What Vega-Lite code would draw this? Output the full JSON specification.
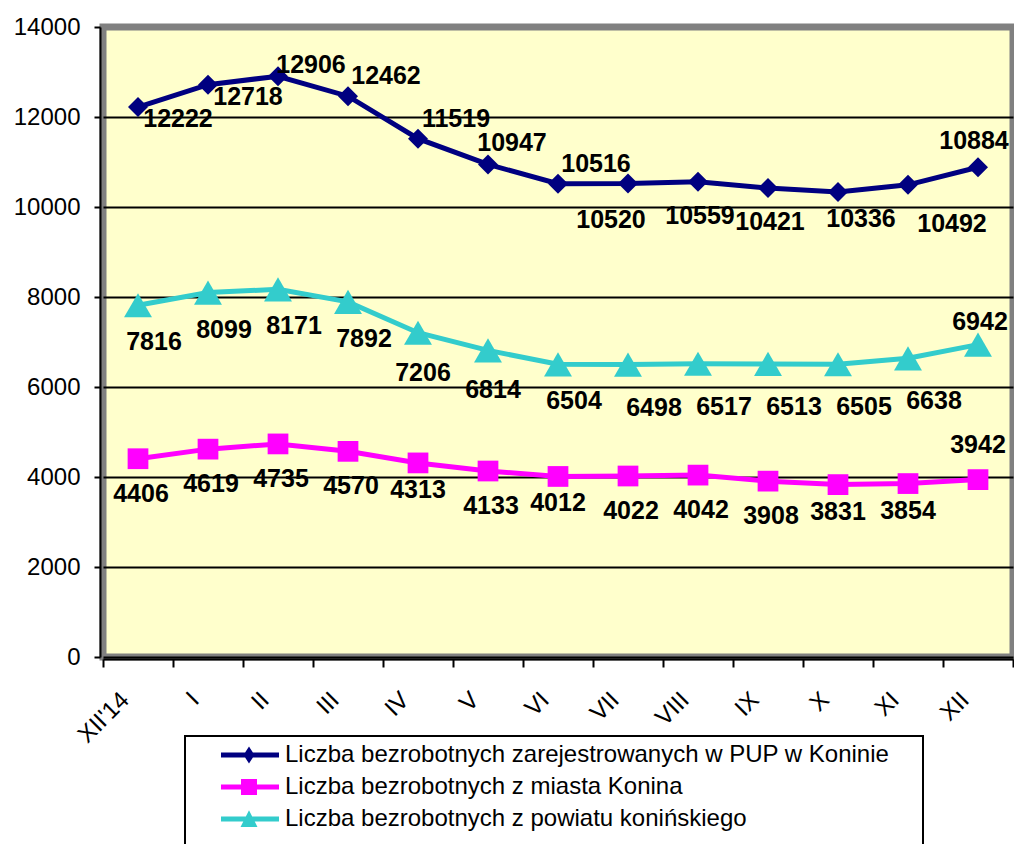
{
  "$schema": "https://vega.github.io/schema/vega-lite/v6.json",
  "width": 910,
  "height": 630,
  "autosize": {"type": "none"},
  "padding": {"left": 103, "top": 27, "right": 1, "bottom": 187},
  "background": "white",
  "view": {"fill": "#FFFFCC", "stroke": "#808080", "strokeWidth": 7},
  "config": {
    "font": "Liberation Sans",
    "view": {"fill": "#FFFFCC", "stroke": "#808080", "strokeWidth": 7}
  },
  "data": {
    "values": [
      {"m": "XII'14", "s": "Liczba bezrobotnych zarejestrowanych w PUP w Koninie", "v": 12222},
      {"m": "I", "s": "Liczba bezrobotnych zarejestrowanych w PUP w Koninie", "v": 12718},
      {"m": "II", "s": "Liczba bezrobotnych zarejestrowanych w PUP w Koninie", "v": 12906},
      {"m": "III", "s": "Liczba bezrobotnych zarejestrowanych w PUP w Koninie", "v": 12462},
      {"m": "IV", "s": "Liczba bezrobotnych zarejestrowanych w PUP w Koninie", "v": 11519},
      {"m": "V", "s": "Liczba bezrobotnych zarejestrowanych w PUP w Koninie", "v": 10947},
      {"m": "VI", "s": "Liczba bezrobotnych zarejestrowanych w PUP w Koninie", "v": 10516},
      {"m": "VII", "s": "Liczba bezrobotnych zarejestrowanych w PUP w Koninie", "v": 10520},
      {"m": "VIII", "s": "Liczba bezrobotnych zarejestrowanych w PUP w Koninie", "v": 10559},
      {"m": "IX", "s": "Liczba bezrobotnych zarejestrowanych w PUP w Koninie", "v": 10421},
      {"m": "X", "s": "Liczba bezrobotnych zarejestrowanych w PUP w Koninie", "v": 10336},
      {"m": "XI", "s": "Liczba bezrobotnych zarejestrowanych w PUP w Koninie", "v": 10492},
      {"m": "XII", "s": "Liczba bezrobotnych zarejestrowanych w PUP w Koninie", "v": 10884},
      {"m": "XII'14", "s": "Liczba bezrobotnych z miasta Konina", "v": 4406},
      {"m": "I", "s": "Liczba bezrobotnych z miasta Konina", "v": 4619},
      {"m": "II", "s": "Liczba bezrobotnych z miasta Konina", "v": 4735},
      {"m": "III", "s": "Liczba bezrobotnych z miasta Konina", "v": 4570},
      {"m": "IV", "s": "Liczba bezrobotnych z miasta Konina", "v": 4313},
      {"m": "V", "s": "Liczba bezrobotnych z miasta Konina", "v": 4133},
      {"m": "VI", "s": "Liczba bezrobotnych z miasta Konina", "v": 4012},
      {"m": "VII", "s": "Liczba bezrobotnych z miasta Konina", "v": 4022},
      {"m": "VIII", "s": "Liczba bezrobotnych z miasta Konina", "v": 4042},
      {"m": "IX", "s": "Liczba bezrobotnych z miasta Konina", "v": 3908},
      {"m": "X", "s": "Liczba bezrobotnych z miasta Konina", "v": 3831},
      {"m": "XI", "s": "Liczba bezrobotnych z miasta Konina", "v": 3854},
      {"m": "XII", "s": "Liczba bezrobotnych z miasta Konina", "v": 3942},
      {"m": "XII'14", "s": "Liczba bezrobotnych z powiatu konińskiego", "v": 7816},
      {"m": "I", "s": "Liczba bezrobotnych z powiatu konińskiego", "v": 8099},
      {"m": "II", "s": "Liczba bezrobotnych z powiatu konińskiego", "v": 8171},
      {"m": "III", "s": "Liczba bezrobotnych z powiatu konińskiego", "v": 7892},
      {"m": "IV", "s": "Liczba bezrobotnych z powiatu konińskiego", "v": 7206},
      {"m": "V", "s": "Liczba bezrobotnych z powiatu konińskiego", "v": 6814},
      {"m": "VI", "s": "Liczba bezrobotnych z powiatu konińskiego", "v": 6504},
      {"m": "VII", "s": "Liczba bezrobotnych z powiatu konińskiego", "v": 6498},
      {"m": "VIII", "s": "Liczba bezrobotnych z powiatu konińskiego", "v": 6517},
      {"m": "IX", "s": "Liczba bezrobotnych z powiatu konińskiego", "v": 6513},
      {"m": "X", "s": "Liczba bezrobotnych z powiatu konińskiego", "v": 6505},
      {"m": "XI", "s": "Liczba bezrobotnych z powiatu konińskiego", "v": 6638},
      {"m": "XII", "s": "Liczba bezrobotnych z powiatu konińskiego", "v": 6942}
    ]
  },
  "encoding": {
    "x": {
      "field": "m", "type": "nominal",
      "scale": {"type": "band", "paddingInner": 0, "paddingOuter": 0,
        "domain": ["XII'14", "I", "II", "III", "IV", "V", "VI", "VII", "VIII", "IX", "X", "XI", "XII"]},
      "axis": {"title": null, "labelAngle": -45, "labelAlign": "right", "labelBaseline": "middle",
        "labelFontSize": 24, "labelColor": "black", "labelPadding": 29, "labelOffset": -13,
        "tickSize": 8, "tickWidth": 2, "tickColor": "black", "tickBand": "extent",
        "domainColor": "black", "domainWidth": 2, "offset": 2, "grid": false}
    },
    "y": {
      "field": "v", "type": "quantitative",
      "scale": {"domain": [0, 14000], "nice": false},
      "axis": {"title": null, "values": [0, 2000, 4000, 6000, 8000, 10000, 12000, 14000], "format": "d",
        "labelFontSize": 24, "labelColor": "black", "tickSize": 6, "tickWidth": 2, "tickColor": "black",
        "labelPadding": 14, "domainColor": "black", "domainWidth": 2, "offset": 3,
        "grid": true, "gridWidth": 2,
        "gridColor": {"condition": {"test": "datum.value === 14000", "value": "transparent"}, "value": "black"}}
    },
    "color": {
      "field": "s", "type": "nominal",
      "scale": {"domain": ["Liczba bezrobotnych zarejestrowanych w PUP w Koninie", "Liczba bezrobotnych z miasta Konina", "Liczba bezrobotnych z powiatu konińskiego"],
        "range": ["#000080", "#FF00FF", "#33CCCC"]},
      "legend": {
        "orient": "none", "legendX": 82, "legendY": 709, "direction": "vertical",
        "title": [" ", " ", " ", " ", " "], "titleOrient": "right", "titlePadding": 27, "titleFontSize": 24,
        "padding": 7, "strokeColor": "black", "fillColor": "white",
        "labelFont": "Liberation Sans", "labelFontSize": 24, "labelColor": "black", "labelLimit": 1000,
        "symbolSize": 256, "symbolStrokeWidth": 0, "symbolOpacity": 1, "symbolOffset": 25, "labelOffset": 44, "rowPadding": 8,
        "encode": {"legend": {"update": {"strokeWidth": {"value": 2}}}}
      }
    }
  },
  "layer": [
    {"mark": {"type": "line", "strokeWidth": 5}},
    {"transform": [{"filter": {"field": "s", "equal": "Liczba bezrobotnych zarejestrowanych w PUP w Koninie"}}],
     "mark": {"type": "point", "shape": "diamond", "size": 400, "filled": true, "opacity": 1, "strokeWidth": 0}},
    {"transform": [{"filter": {"field": "s", "equal": "Liczba bezrobotnych z miasta Konina"}}],
     "mark": {"type": "point", "shape": "square", "size": 430, "filled": true, "opacity": 1, "strokeWidth": 0}},
    {"transform": [{"filter": {"field": "s", "equal": "Liczba bezrobotnych z powiatu konińskiego"}}],
     "mark": {"type": "point", "shape": "triangle-up", "size": 780, "filled": true, "opacity": 1, "strokeWidth": 0}},
    {"transform": [{"filter": {"field": "v", "lt": 0}}],
     "mark": {"type": "point", "filled": true, "opacity": 1, "strokeWidth": 0},
     "encoding": {
       "shape": {"field": "s", "type": "nominal",
         "scale": {"domain": ["Liczba bezrobotnych zarejestrowanych w PUP w Koninie", "Liczba bezrobotnych z miasta Konina", "Liczba bezrobotnych z powiatu konińskiego"],
           "range": ["M-1,-0.31H6.25V0.31H-1Z M1.81,0L2.5,-1.06L3.19,0L2.5,1.06Z", "M-1,-0.31H6.25V0.31H-1Z M1.5,-1H3.5V1H1.5Z", "M-1,-0.31H6.25V0.31H-1Z M2.5,-1.1L3.56,1H1.44Z"]}}
     }},
    {"transform": [{"filter": {"and": [{"field": "s", "equal": "Liczba bezrobotnych zarejestrowanych w PUP w Koninie"}, {"field": "m", "oneOf": ["XII'14", "I"]}]}}],
     "mark": {"type": "text", "fontSize": 25, "fontWeight": "bold", "baseline": "middle", "align": "center", "dx": 40, "dy": 12},
     "encoding": {"text": {"field": "v", "type": "quantitative", "format": "d"}, "color": {"value": "black"}}},
    {"transform": [{"filter": {"and": [{"field": "s", "equal": "Liczba bezrobotnych zarejestrowanych w PUP w Koninie"}, {"field": "m", "oneOf": ["II"]}]}}],
     "mark": {"type": "text", "fontSize": 25, "fontWeight": "bold", "baseline": "middle", "align": "center", "dx": 33, "dy": -11},
     "encoding": {"text": {"field": "v", "type": "quantitative", "format": "d"}, "color": {"value": "black"}}},
    {"transform": [{"filter": {"and": [{"field": "s", "equal": "Liczba bezrobotnych zarejestrowanych w PUP w Koninie"}, {"field": "m", "oneOf": ["III", "IV", "VI"]}]}}],
     "mark": {"type": "text", "fontSize": 25, "fontWeight": "bold", "baseline": "middle", "align": "center", "dx": 38, "dy": -20},
     "encoding": {"text": {"field": "v", "type": "quantitative", "format": "d"}, "color": {"value": "black"}}},
    {"transform": [{"filter": {"and": [{"field": "s", "equal": "Liczba bezrobotnych zarejestrowanych w PUP w Koninie"}, {"field": "m", "oneOf": ["V"]}]}}],
     "mark": {"type": "text", "fontSize": 25, "fontWeight": "bold", "baseline": "middle", "align": "center", "dx": 24, "dy": -21},
     "encoding": {"text": {"field": "v", "type": "quantitative", "format": "d"}, "color": {"value": "black"}}},
    {"transform": [{"filter": {"and": [{"field": "s", "equal": "Liczba bezrobotnych zarejestrowanych w PUP w Koninie"}, {"field": "m", "oneOf": ["VII"]}]}}],
     "mark": {"type": "text", "fontSize": 25, "fontWeight": "bold", "baseline": "middle", "align": "center", "dx": -17, "dy": 36},
     "encoding": {"text": {"field": "v", "type": "quantitative", "format": "d"}, "color": {"value": "black"}}},
    {"transform": [{"filter": {"and": [{"field": "s", "equal": "Liczba bezrobotnych zarejestrowanych w PUP w Koninie"}, {"field": "m", "oneOf": ["VIII", "IX"]}]}}],
     "mark": {"type": "text", "fontSize": 25, "fontWeight": "bold", "baseline": "middle", "align": "center", "dx": 2, "dy": 34},
     "encoding": {"text": {"field": "v", "type": "quantitative", "format": "d"}, "color": {"value": "black"}}},
    {"transform": [{"filter": {"and": [{"field": "s", "equal": "Liczba bezrobotnych zarejestrowanych w PUP w Koninie"}, {"field": "m", "oneOf": ["X"]}]}}],
     "mark": {"type": "text", "fontSize": 25, "fontWeight": "bold", "baseline": "middle", "align": "center", "dx": 23, "dy": 27},
     "encoding": {"text": {"field": "v", "type": "quantitative", "format": "d"}, "color": {"value": "black"}}},
    {"transform": [{"filter": {"and": [{"field": "s", "equal": "Liczba bezrobotnych zarejestrowanych w PUP w Koninie"}, {"field": "m", "oneOf": ["XI"]}]}}],
     "mark": {"type": "text", "fontSize": 25, "fontWeight": "bold", "baseline": "middle", "align": "center", "dx": 44, "dy": 39},
     "encoding": {"text": {"field": "v", "type": "quantitative", "format": "d"}, "color": {"value": "black"}}},
    {"transform": [{"filter": {"and": [{"field": "s", "equal": "Liczba bezrobotnych zarejestrowanych w PUP w Koninie"}, {"field": "m", "oneOf": ["XII"]}]}}],
     "mark": {"type": "text", "fontSize": 25, "fontWeight": "bold", "baseline": "middle", "align": "center", "dx": -4, "dy": -26},
     "encoding": {"text": {"field": "v", "type": "quantitative", "format": "d"}, "color": {"value": "black"}}},
    {"transform": [{"filter": {"and": [{"field": "s", "equal": "Liczba bezrobotnych z powiatu konińskiego"}, {"field": "m", "oneOf": ["XII'14", "I", "II", "III", "VI"]}]}}],
     "mark": {"type": "text", "fontSize": 25, "fontWeight": "bold", "baseline": "middle", "align": "center", "dx": 16, "dy": 37},
     "encoding": {"text": {"field": "v", "type": "quantitative", "format": "d"}, "color": {"value": "black"}}},
    {"transform": [{"filter": {"and": [{"field": "s", "equal": "Liczba bezrobotnych z powiatu konińskiego"}, {"field": "m", "oneOf": ["IV", "V"]}]}}],
     "mark": {"type": "text", "fontSize": 25, "fontWeight": "bold", "baseline": "middle", "align": "center", "dx": 5, "dy": 40},
     "encoding": {"text": {"field": "v", "type": "quantitative", "format": "d"}, "color": {"value": "black"}}},
    {"transform": [{"filter": {"and": [{"field": "s", "equal": "Liczba bezrobotnych z powiatu konińskiego"}, {"field": "m", "oneOf": ["VII", "VIII", "IX", "X", "XI"]}]}}],
     "mark": {"type": "text", "fontSize": 25, "fontWeight": "bold", "baseline": "middle", "align": "center", "dx": 26, "dy": 43},
     "encoding": {"text": {"field": "v", "type": "quantitative", "format": "d"}, "color": {"value": "black"}}},
    {"transform": [{"filter": {"and": [{"field": "s", "equal": "Liczba bezrobotnych z powiatu konińskiego"}, {"field": "m", "oneOf": ["XII"]}]}}],
     "mark": {"type": "text", "fontSize": 25, "fontWeight": "bold", "baseline": "middle", "align": "center", "dx": 2, "dy": -23},
     "encoding": {"text": {"field": "v", "type": "quantitative", "format": "d"}, "color": {"value": "black"}}},
    {"transform": [{"filter": {"and": [{"field": "s", "equal": "Liczba bezrobotnych z miasta Konina"}, {"field": "m", "oneOf": ["XII'14", "I", "II", "III", "V", "VII", "VIII", "IX"]}]}}],
     "mark": {"type": "text", "fontSize": 25, "fontWeight": "bold", "baseline": "middle", "align": "center", "dx": 3, "dy": 35},
     "encoding": {"text": {"field": "v", "type": "quantitative", "format": "d"}, "color": {"value": "black"}}},
    {"transform": [{"filter": {"and": [{"field": "s", "equal": "Liczba bezrobotnych z miasta Konina"}, {"field": "m", "oneOf": ["IV", "VI", "X", "XI"]}]}}],
     "mark": {"type": "text", "fontSize": 25, "fontWeight": "bold", "baseline": "middle", "align": "center", "dx": 0, "dy": 27},
     "encoding": {"text": {"field": "v", "type": "quantitative", "format": "d"}, "color": {"value": "black"}}},
    {"transform": [{"filter": {"and": [{"field": "s", "equal": "Liczba bezrobotnych z miasta Konina"}, {"field": "m", "oneOf": ["XII"]}]}}],
     "mark": {"type": "text", "fontSize": 25, "fontWeight": "bold", "baseline": "middle", "align": "center", "dx": 0, "dy": -35},
     "encoding": {"text": {"field": "v", "type": "quantitative", "format": "d"}, "color": {"value": "black"}}}
  ]
}
